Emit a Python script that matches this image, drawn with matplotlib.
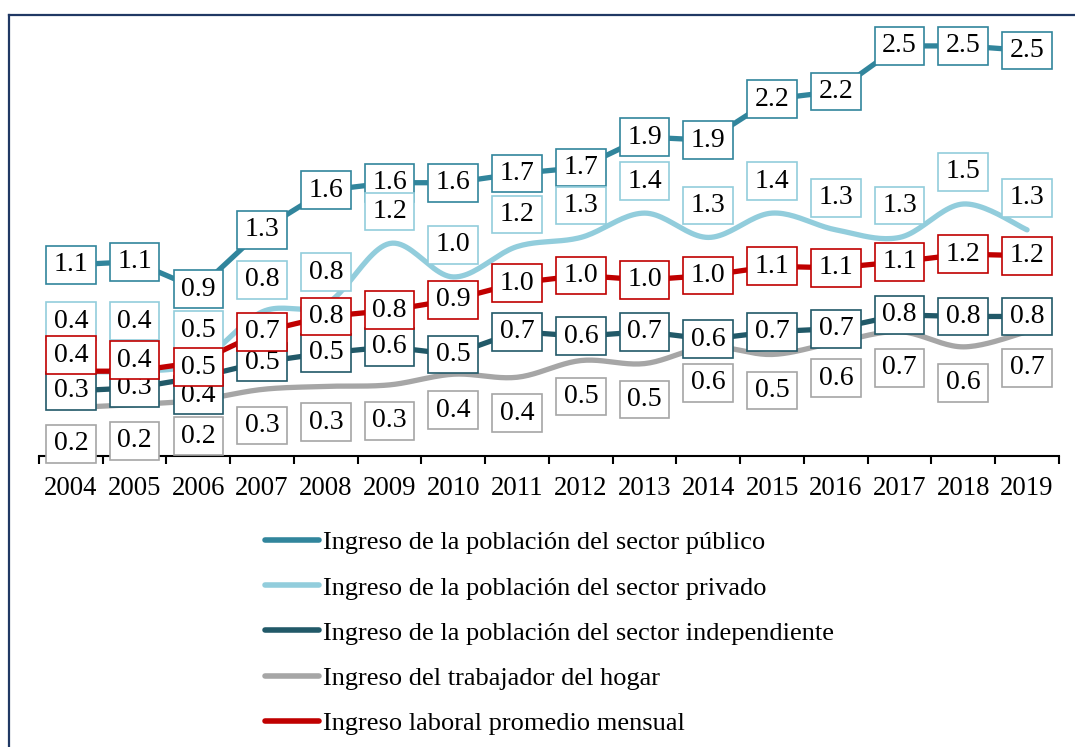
import numpy as np
import matplotlib
matplotlib.use("Agg")
import matplotlib.pyplot as plt
from matplotlib.path import Path
from matplotlib.lines import Line2D

plt.rcParams['font.family'] = ['Liberation Serif', 'DejaVu Serif']

years = ["2004", "2005", "2006", "2007", "2008", "2009", "2010", "2011",
         "2012", "2013", "2014", "2015", "2016", "2017", "2018", "2019"]

publico = [1.10, 1.12, 0.94, 1.33, 1.59, 1.64, 1.64, 1.70,
           1.74, 1.94, 1.92, 2.19, 2.24, 2.54, 2.54, 2.51]
privado = [0.40, 0.40, 0.46, 0.79, 0.84, 1.24, 1.02, 1.22,
           1.28, 1.44, 1.28, 1.44, 1.33, 1.28, 1.50, 1.33]
independiente = [0.27, 0.29, 0.36, 0.46, 0.52, 0.56, 0.51, 0.66,
                 0.63, 0.66, 0.61, 0.66, 0.68, 0.77, 0.76, 0.76]
hogar = [0.16, 0.18, 0.21, 0.28, 0.30, 0.31, 0.38, 0.36,
         0.47, 0.45, 0.56, 0.51, 0.59, 0.66, 0.56, 0.66]
promedio = [0.40, 0.40, 0.46, 0.66, 0.76, 0.80, 0.87, 0.98,
            1.03, 1.00, 1.03, 1.09, 1.08, 1.12, 1.17, 1.16]

names = ["Ingreso de la población del sector público",
         "Ingreso de la población del sector privado",
         "Ingreso de la población del sector independiente",
         "Ingreso del trabajador del hogar",
         "Ingreso laboral promedio mensual"]
colors = ["#31859C", "#92CDDC", "#215968", "#A6A6A6", "#C00000"]
smooth_flags = [False, True, False, True, False]

# label offsets in pixels (layout only)
off_pub = [0] * 16
off_priv = [50, 50] + [32] * 14
off_ind = [0, 0, -18] + [0] * 13
off_hog = [-36] * 16
off_prom = [16, 11, -5] + [0] * 13
offsets = [off_pub, off_priv, off_ind, off_hog, off_prom]
series = [publico, privado, independiente, hogar, promedio]

LABEL_FS = 20


def catmull(x, y, n=24):
    x = np.asarray(x, float)
    y = np.asarray(y, float)
    px = np.concatenate([[x[0]], x, [x[-1]]])
    py = np.concatenate([[y[0]], y, [y[-1]]])
    xs, ys = [], []
    t = np.linspace(0, 1, n)
    for i in range(1, len(px) - 2):
        p0 = np.array([px[i], py[i]])
        p3 = np.array([px[i + 1], py[i + 1]])
        c1 = p0 + (p3 - np.array([px[i - 1], py[i - 1]])) / 6.0
        c2 = p3 - (np.array([px[i + 2], py[i + 2]]) - p0) / 6.0
        b = ((1 - t) ** 3)[:, None] * p0 + (3 * (1 - t) ** 2 * t)[:, None] * c1 \
            + (3 * (1 - t) * t ** 2)[:, None] * c2 + (t ** 3)[:, None] * p3
        xs.append(b[:, 0])
        ys.append(b[:, 1])
    return np.concatenate(xs), np.concatenate(ys)


def label_box(x0, y0, width, height, mutation_size):
    cx = x0 + width / 2.0
    cy = y0 + height / 2.0
    hw = 0.895 * mutation_size
    hh = 0.68 * mutation_size
    verts = [(cx - hw, cy - hh), (cx + hw, cy - hh), (cx + hw, cy + hh),
             (cx - hw, cy + hh), (cx - hw, cy - hh)]
    return Path(verts, closed=True)


fig = plt.figure(figsize=(10.75, 7.47), dpi=100)
ax = fig.add_axes([0.03628, 0.38956, 0.9488, 0.58153])

x = np.arange(len(years))
line_z = [2, 2.1, 2.2, 2.3, 2.5]
label_z = [5, 6, 7, 8, 9]
for s, col, sm, zl, zt, offs in zip(series, colors, smooth_flags, line_z, label_z, offsets):
    if sm:
        xx, yy = catmull(x, s)
    else:
        xx, yy = x, np.asarray(s)
    ax.plot(xx, yy, color=col, lw=3.8, solid_capstyle='round',
            solid_joinstyle='round', zorder=zl)
    for xi, v, o in zip(x, s, offs):
        ax.annotate(f"{v:.1f}", (xi, v), xytext=(0, o), textcoords='offset pixels',
                    ha='center', va='center', fontsize=LABEL_FS, color='black',
                    zorder=zt,
                    bbox=dict(boxstyle=label_box, fc='white', ec=col, lw=1.2))

ax.set_xlim(-0.5, len(years) - 0.5)
ax.set_ylim(-0.158, 2.7)
for sp in ['left', 'right', 'top']:
    ax.spines[sp].set_visible(False)
ax.spines['bottom'].set_linewidth(1.5)
ax.set_yticks([])
ax.set_xticks(x)
ax.set_xticklabels(years, fontsize=19.3)
ax.set_xticks(np.arange(-0.5, len(years), 1.0), minor=True)
ax.tick_params(axis='x', which='major', length=0, pad=14.5)
ax.tick_params(axis='x', which='minor', length=5.5, width=1.5, direction='out')

handles = [Line2D([0], [0], color=c, lw=4, solid_capstyle='round') for c in colors]
fig.legend(handles, names, loc='upper left', bbox_to_anchor=(265 / 1075, 1 - 531 / 747),
           frameon=False, fontsize=19, handlelength=2.05, handletextpad=0.15,
           labelspacing=0.82, borderpad=0, borderaxespad=0)

# outer frame
fig.add_artist(Line2D([9 / 1075, 9 / 1075], [0, 1 - 15 / 747], transform=fig.transFigure,
                      color='#203864', lw=1.6))
fig.add_artist(Line2D([9 / 1075, 1], [1 - 15 / 747, 1 - 15 / 747], transform=fig.transFigure,
                      color='#203864', lw=1.6))

fig.savefig("out.png", dpi=100)
